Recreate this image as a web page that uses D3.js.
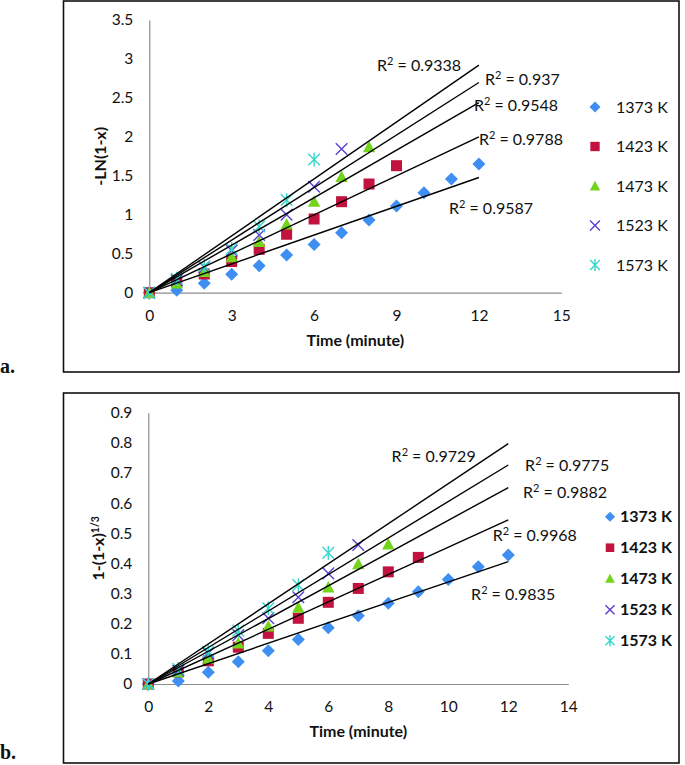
<!DOCTYPE html>
<html>
<head>
<meta charset="utf-8">
<script src="https://cdn.jsdelivr.net/npm/d3@7"></script>
<style>
  body { margin: 0; background: #fff; }
  text { font-family: Lato, "Open Sans", sans-serif; fill: #111; }
  .tick text { font-size: 15.5px; }
  .title { font-size: 16px; font-weight: bold; }
  .r2 { font-size: 16px; }
  .panel { font-family: "Liberation Serif", serif; font-weight: bold; font-size: 20px; }
</style>
</head>
<body>
<div id="chart"></div>
<script>
// series
const temps = ["1373 K", "1423 K", "1473 K", "1523 K", "1573 K"];
const time = [0, 1, 2, 3, 4, 5, 6, 7, 8, 9, 10, 11, 12];

// (a) -LN(1-x) vs time
const lnX_1373 = [0, 0.03, 0.12, 0.236, 0.347, 0.484, 0.62, 0.77, 0.933, 1.113, 1.284, 1.46, 1.652];
const lnX_1423 = [0, 0.13, 0.24, 0.40, 0.557, 0.75, 0.946, 1.168, 1.395, 1.63];
const lnX_1473 = [0, 0.12, 0.27, 0.46, 0.655, 0.88, 1.17, 1.49, 1.87];
const lnX_1523 = [0, 0.16, 0.33, 0.54, 0.74, 1.0, 1.36, 1.845];
const lnX_1573 = [0, 0.18, 0.34, 0.56, 0.85, 1.19, 1.71];
const r2A = ["0.9587", "0.9788", "0.9548", "0.937", "0.9338"];

// (b) 1-(1-x)^1/3 vs time
const cr_1373 = [0, 0.01, 0.039, 0.074, 0.11, 0.148, 0.187, 0.226, 0.268, 0.306, 0.347, 0.389, 0.428];
const cr_1423 = [0, 0.04, 0.077, 0.122, 0.168, 0.218, 0.271, 0.317, 0.372, 0.42];
const cr_1473 = [0, 0.04, 0.085, 0.135, 0.192, 0.254, 0.321, 0.398, 0.464];
const cr_1523 = [0, 0.045, 0.102, 0.162, 0.218, 0.288, 0.367, 0.461];
const cr_1573 = [0, 0.05, 0.107, 0.177, 0.251, 0.328, 0.435];
const r2B = ["0.9835", "0.9968", "0.9882", "0.9775", "0.9729"];

// ticks
const xTicksA = [0, 3, 6, 9, 12, 15];
const yTicksA = [0, 0.5, 1, 1.5, 2, 2.5, 3, 3.5];
const xTicksB = [0, 2, 4, 6, 8, 10, 12, 14];
const yTicksB = [0, 0.1, 0.2, 0.3, 0.4, 0.5, 0.6, 0.7, 0.8, 0.9];

// styles
const colors = ["#3f8ef2", "#c2123f", "#74d41c", "#5b3fd3", "#38d6cc"];
const shapes = ["diamond", "square", "triangle", "x", "asterisk"];

const width = 685, height = 765;
const svg = d3.select("#chart").append("svg")
  .attr("width", width).attr("height", height);

function markerPath(kind, s) {
  switch (kind) {
    case "diamond": return `M0,${-s}L${s},0L0,${s}L${-s},0Z`;
    case "square": return `M${-s},${-s}H${s}V${s}H${-s}Z`;
    case "triangle": return `M0,${-s}L${s},${s * 0.85}L${-s},${s * 0.85}Z`;
    case "x": return `M${-s},${-s}L${s},${s}M${s},${-s}L${-s},${s}`;
    default: return `M${-s},${-s}L${s},${s}M${s},${-s}L${-s},${s}M0,${-s * 1.2}V${s * 1.2}`;
  }
}
const markerSize = { diamond: 6.5, square: 5.5, triangle: 6.2, x: 5.8, asterisk: 5.8 };

function drawMarker(g, i, scale) {
  const kind = shapes[i];
  const filled = i < 3;
  g.append("path")
    .attr("d", markerPath(kind, markerSize[kind] * scale))
    .attr("fill", filled ? colors[i] : "none")
    .attr("stroke", filled ? "none" : colors[i])
    .attr("stroke-width", 1.4);
}

function drawChart(cfg) {
  const g = svg.append("g");

  // frame
  g.append("rect")
    .attr("x", 63.5).attr("y", cfg.frameTop)
    .attr("width", 615.5).attr("height", cfg.frameH)
    .attr("fill", "none").attr("stroke", "#111").attr("stroke-width", 1.6);

  const x = d3.scaleLinear().domain(cfg.xDomain).range(cfg.xRange);
  const y = d3.scaleLinear().domain(cfg.yDomain).range(cfg.yRange);

  const yAxis = g.append("g")
    .attr("transform", `translate(${cfg.xRange[0]},0)`)
    .call(d3.axisLeft(y).tickValues(cfg.yTicks).tickSize(0).tickPadding(16).tickFormat(d3.format("")));
  const xAxis = g.append("g")
    .attr("transform", `translate(0,${cfg.yRange[0]})`)
    .call(d3.axisBottom(x).tickValues(cfg.xTicks).tickSize(0).tickPadding(17));
  [xAxis, yAxis].forEach(a => {
    a.select(".domain").attr("stroke", "#8c8c8c").attr("stroke-width", 1.2);
    a.selectAll(".tick text").attr("fill", "#111");
  });

  // points
  cfg.series.forEach((vals, i) => {
    g.append("g").selectAll("g")
      .data(vals.map((v, k) => ({ t: time[k], v })))
      .join("g")
      .attr("transform", d => `translate(${x(d.t)},${y(d.v)})`)
      .each(function () { drawMarker(d3.select(this), i, 1); });
  });

  // linear trendlines through origin
  cfg.series.forEach((vals, i) => {
    const sxy = d3.sum(vals, (v, k) => v * time[k]);
    const sxx = d3.sum(vals, (v, k) => time[k] * time[k]);
    const slope = sxy / sxx;
    g.append("line")
      .attr("x1", x(0)).attr("y1", y(0))
      .attr("x2", x(cfg.trendEnd)).attr("y2", y(slope * cfg.trendEnd))
      .attr("stroke", "#000").attr("stroke-width", 1.4);
  });

  // R² labels
  cfg.r2.forEach((r, i) => {
    const t = g.append("text").attr("class", "r2")
      .attr("x", x(cfg.r2Pos[i][0])).attr("y", y(cfg.r2Pos[i][1]) + 5.5);
    t.append("tspan").text("R");
    t.append("tspan").attr("dy", -6).attr("font-size", "11px").text("2");
    t.append("tspan").attr("dy", 6).text(` = ${r}`);
  });

  // axis titles
  g.append("text").attr("class", "title")
    .attr("x", (cfg.xRange[0] + cfg.xRange[1]) / 2).attr("y", cfg.xTitleY)
    .attr("text-anchor", "middle").attr("dy", "0.35em")
    .text("Time (minute)");
  const yt = g.append("text").attr("class", "title")
    .attr("transform", `translate(${cfg.yTitleX},${(cfg.yRange[0] + cfg.yRange[1]) / 2}) rotate(-90)`)
    .attr("text-anchor", "middle").attr("dy", "0.35em");
  yt.append("tspan").text(cfg.yTitle);
  if (cfg.yTitleSup) {
    yt.append("tspan").attr("dy", "-0.45em").attr("font-size", "10.5px").text(cfg.yTitleSup);
  }

  // legend
  temps.forEach((t, i) => {
    const ly = cfg.legendY + i * cfg.legendStep;
    const lg = g.append("g").attr("transform", `translate(${cfg.legendX},${ly})`);
    drawMarker(lg, i, cfg.legendScale);
    lg.append("text")
      .attr("x", cfg.legendTextDx).attr("dy", "0.35em")
      .attr("font-size", "16px")
      .attr("font-weight", cfg.legendBold ? "bold" : "normal")
      .text(t);
  });

  // panel letter
  svg.append("text").attr("class", "panel")
    .attr("x", 0).attr("y", cfg.panelY)
    .text(cfg.panel);
}

drawChart({
  frameTop: 1, frameH: 371,
  xDomain: [0, 15], xRange: [149.3, 561.3],
  yDomain: [0, 3.5], yRange: [292.7, 20],
  xTicks: xTicksA, yTicks: yTicksA,
  series: [lnX_1373, lnX_1423, lnX_1473, lnX_1523, lnX_1573],
  trendEnd: 12,
  r2: r2A,
  r2Pos: [[10.91, 1.075], [12.0, 1.96], [11.82, 2.40], [12.22, 2.73], [8.29, 2.91]],
  xTitleY: 340.5, yTitleX: 100, yTitle: "-LN(1-x)",
  legendX: 595, legendY: 107, legendStep: 39.5, legendScale: 0.85, legendTextDx: 21, legendBold: false,
  panel: "a.", panelY: 373
});

drawChart({
  frameTop: 393, frameH: 370,
  xDomain: [0, 14], xRange: [148.3, 568.3],
  yDomain: [0, 0.9], yRange: [684, 412.7],
  xTicks: xTicksB, yTicks: yTicksB,
  series: [cr_1373, cr_1423, cr_1473, cr_1523, cr_1573],
  trendEnd: 12,
  r2: r2B,
  r2Pos: [[10.76, 0.2985], [11.48, 0.492], [12.49, 0.634], [12.56, 0.726], [8.11, 0.754]],
  xTitleY: 731.5, yTitleX: 98, yTitle: "1-(1-x)", yTitleSup: "1/3",
  legendX: 610, legendY: 516.7, legendStep: 31, legendScale: 0.78, legendTextDx: 10, legendBold: true,
  panel: "b.", panelY: 759
});
</script>
</body>
</html>
